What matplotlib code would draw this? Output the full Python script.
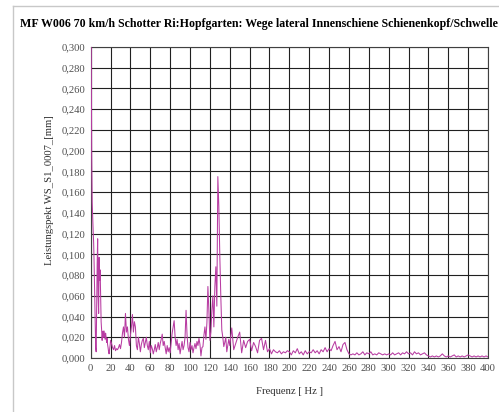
import numpy as np
import matplotlib
matplotlib.use('Agg')
import matplotlib.pyplot as plt
from matplotlib.lines import Line2D

title = "MF W006 70 km/h Schotter Ri:Hopfgarten: Wege lateral Innenschiene Schienenkopf/Schwelle"
x_label = "Frequenz [ Hz ]"
y_label = "Leistungspekt WS_S1_0007_[mm]"

# 0 .. 19.5 Hz, 0.5 Hz steps
freq_a = np.arange(0, 20, 0.5)
vals_a = [0.450, 0.300, 0.195, 0.150, 0.135, 0.122, 0.110, 0.088, 0.060, 0.030,
          0.010, 0.006, 0.050, 0.090, 0.115, 0.060, 0.043, 0.097, 0.075, 0.085,
          0.060, 0.035, 0.027, 0.017, 0.024, 0.026, 0.020, 0.026, 0.022, 0.018,
          0.024, 0.020, 0.015, 0.019, 0.013, 0.010, 0.006, 0.004, 0.008, 0.012]

# 20 .. 139 Hz, 1 Hz steps
freq_b = np.arange(20, 140, 1)
vals_b = [0.017, 0.014, 0.010, 0.008, 0.012, 0.007, 0.009, 0.008, 0.010, 0.013,
          0.009, 0.015, 0.024, 0.030, 0.020, 0.043, 0.025, 0.030, 0.018, 0.012,
          0.022, 0.030, 0.042, 0.025, 0.035, 0.030, 0.012, 0.008, 0.020, 0.014,
          0.006, 0.013, 0.017, 0.019, 0.010, 0.015, 0.020, 0.012, 0.008, 0.016,
          0.005, 0.012, 0.009, 0.004, 0.008, 0.013, 0.006, 0.010, 0.015, 0.008,
          0.014, 0.018, 0.023, 0.012, 0.016, 0.010, 0.004, 0.012, 0.006, 0.010,
          0.005, 0.015, 0.024, 0.030, 0.036, 0.020, 0.012, 0.018, 0.008, 0.014,
          0.004, 0.010, 0.016, 0.008, 0.012, 0.020, 0.046, 0.022, 0.010, 0.006,
          0.015, 0.008, 0.012, 0.005, 0.010, 0.014, 0.009, 0.016, 0.012, 0.019,
          0.013, 0.002, 0.010, 0.011, 0.022, 0.030, 0.018, 0.034, 0.069, 0.045,
          0.017, 0.025, 0.046, 0.060, 0.030, 0.069, 0.088, 0.050, 0.175, 0.146,
          0.098, 0.059, 0.027, 0.020, 0.011, 0.015, 0.020, 0.006, 0.012, 0.018]

# 140 .. 400 Hz, 2 Hz steps
freq_c = np.arange(140, 401, 2)
vals_c = [0.012, 0.029, 0.008, 0.014, 0.020, 0.025, 0.005, 0.017, 0.010, 0.016,
          0.018, 0.007, 0.015, 0.011, 0.005, 0.017, 0.019, 0.008, 0.017, 0.006,
          0.009, 0.004, 0.008, 0.006, 0.005, 0.007, 0.004, 0.006, 0.005, 0.007,
          0.006, 0.003, 0.007, 0.005, 0.009, 0.004, 0.006, 0.003, 0.007, 0.004,
          0.006, 0.005, 0.008, 0.005, 0.007, 0.004, 0.008, 0.006, 0.010, 0.006,
          0.009, 0.007, 0.012, 0.016, 0.008, 0.011, 0.006, 0.013, 0.015, 0.008,
          0.004, 0.003, 0.004, 0.003, 0.005, 0.003, 0.004, 0.006, 0.003, 0.005,
          0.004, 0.006, 0.003, 0.004, 0.003, 0.005, 0.004, 0.003, 0.004, 0.003,
          0.004, 0.003, 0.005, 0.003, 0.004, 0.005, 0.003, 0.005, 0.004, 0.006,
          0.004, 0.005, 0.003, 0.006, 0.004, 0.005, 0.003, 0.004, 0.005, 0.003,
          0.002, 0.001, 0.002, 0.001, 0.002, 0.001, 0.002, 0.004, 0.002, 0.001,
          0.002, 0.001, 0.002, 0.003, 0.001, 0.002, 0.001, 0.002, 0.001, 0.002,
          0.003, 0.002, 0.001, 0.002, 0.001, 0.002, 0.001, 0.002, 0.001, 0.002,
          0.001]

freq = np.concatenate([freq_a, freq_b, freq_c])
vals = np.concatenate([vals_a, vals_b, vals_c])

x_ticks = np.arange(0, 401, 20)
y_ticks = np.arange(0, 0.3001, 0.02)
y_ticklabels = ['%.3f' % v for v in y_ticks]
y_ticklabels = [s.replace('.', ',') for s in y_ticklabels]

serif = 'Liberation Serif'
W, H = 499, 412

fig = plt.figure(figsize=(W / 100, H / 100), dpi=100)
fig.patch.set_facecolor('white')

# outer chart frame
fig.add_artist(Line2D([12.5 / W, 12.5 / W], [0, 1 - 5.5 / H], color='#c8c8c8', lw=1))
fig.add_artist(Line2D([12.5 / W, 1], [1 - 5.5 / H, 1 - 5.5 / H], color='#c8c8c8', lw=1))

ax = fig.add_axes([90.7 / W, 1 - 358 / H, (488 - 90.7) / W, (358 - 47) / H])
ax.plot(freq, vals, color='#b83ca2', lw=0.75, clip_on=True, zorder=3)

ax.set_xlim(0, 400)
ax.set_ylim(0, 0.3)
ax.set_xticks(x_ticks)
ax.set_xticklabels([str(v) for v in x_ticks])
ax.set_yticks(y_ticks)
ax.set_yticklabels(y_ticklabels)
ax.tick_params(length=0, pad=4, labelsize=7.7, labelcolor='#505050')
for lab in ax.get_xticklabels() + ax.get_yticklabels():
    lab.set_fontfamily(serif)

ax.grid(True, color='#202020', lw=0.8)
ax.set_axisbelow(True)
for s in ax.spines.values():
    s.set_color('#404040')
    s.set_linewidth(0.8)

fig.text(20 / W, 1 - 24 / H, title, fontsize=8.6, fontweight='bold',
         family=serif, ha='left', va='center')
fig.text(289 / W, 1 - 392 / H, x_label, fontsize=7.7, family=serif,
         color='#303030', ha='center', va='center')
fig.text(50 / W, 1 - 190 / H, y_label, fontsize=7.7, family=serif,
         color='#303030', ha='center', va='center', rotation=90)

fig.savefig('out.png', dpi=100)
